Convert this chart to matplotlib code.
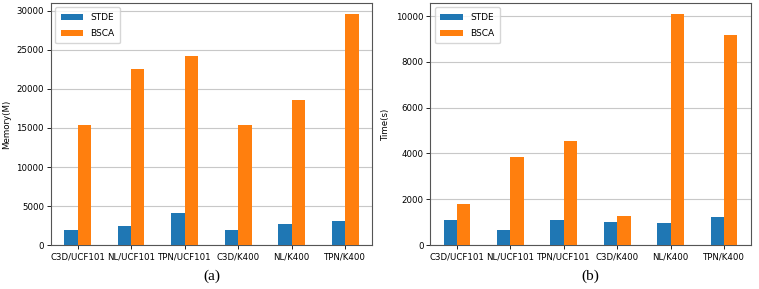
import matplotlib
matplotlib.use("Agg")
import matplotlib.pyplot as plt
import numpy as np

categories = ["C3D/UCF101", "NL/UCF101", "TPN/UCF101", "C3D/K400", "NL/K400", "TPN/K400"]
mem_stde = [1900, 2420, 4120, 1900, 2650, 3050]
mem_bsca = [15320, 22550, 24250, 15350, 18620, 29550]
time_stde = [1090, 640, 1090, 1000, 945, 1235]
time_bsca = [1790, 3840, 4535, 1265, 10070, 9160]

fig = plt.figure(figsize=(7.59, 2.89), dpi=100)
ax1 = fig.add_axes([0.067, 0.152, 0.423, 0.838])
ax2 = fig.add_axes([0.567, 0.152, 0.422, 0.838])

x = np.arange(len(categories))
w = 0.25
for ax, s1, s2, ylab, lab in [(ax1, mem_stde, mem_bsca, "Memory(M)", "(a)"),
                              (ax2, time_stde, time_bsca, "Time(s)", "(b)")]:
    ax.bar(x - w / 2, s1, w, color="#1f77b4", label="STDE", zorder=3)
    ax.bar(x + w / 2, s2, w, color="#ff7f0e", label="BSCA", zorder=3)
    ax.set_xlim(-0.5, len(categories) - 0.5)
    ax.set_xticks(x)
    ax.set_xticklabels(categories, fontsize=6.2)
    ax.tick_params(axis="y", labelsize=6.2)
    ax.tick_params(length=3, width=0.6, pad=2)
    ax.set_ylabel(ylab, fontsize=6.2, labelpad=4)
    ax.yaxis.grid(True, color="#c8c8c8", linewidth=0.8, zorder=0)
    ax.set_axisbelow(True)
    for sp in ax.spines.values():
        sp.set_color("#555555")
        sp.set_linewidth(0.8)
    ax.legend(loc="upper left", fontsize=6.5, handlelength=2.5, borderpad=0.6,
              labelspacing=0.8)
    ax.text(0.5, -0.1, lab, transform=ax.transAxes, ha="center", va="top",
            fontsize=11, family="Liberation Serif")

fig.savefig("out.png", dpi=100)
